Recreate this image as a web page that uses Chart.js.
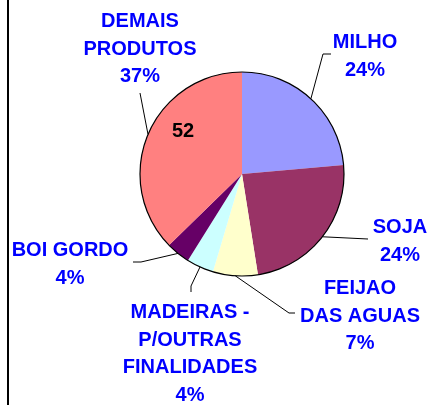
<!DOCTYPE html>
<html>
<head>
<meta charset="utf-8">
<script src="https://cdn.jsdelivr.net/npm/chart.js@4/dist/chart.umd.min.js"></script>
<style>
    html, body { margin: 0; padding: 0; background: #fff; }
    canvas { display: block; }
</style>
</head>
<body>
<canvas id="pie" width="430" height="405"></canvas>
<script>
// slice data (clockwise from 12 o'clock)
const categories = [
    ['MILHO'],
    ['SOJA'],
    ['FEIJAO', 'DAS AGUAS'],
    ['MADEIRAS -', 'P/OUTRAS', 'FINALIDADES'],
    ['BOI GORDO'],
    ['DEMAIS', 'PRODUTOS']
];
const shares = [23.6, 23.9, 7.1, 4.3, 3.8, 37.3];
const sliceColors = ['#9999FF', '#993366', '#FFFFCC', '#CCFFFF', '#660066', '#FF8080'];
const strayValue = '52';

(() => {
    'use strict';

    const FONT = 'bold 20px "Liberation Sans", Arial, sans-serif';
    const LINE_H = 27.5;

    // label placement relative to the pie centre: centre x, first baseline, leader path after the arc point
    const labelLayout = [
        { x: 123, y: -126, path: [[81, -120], [89, -120]] },
        { x: 158, y: 59, path: [[126, 65]] },
        { x: 118, y: 120, path: [[47, 139], [53, 139]] },
        { x: -52, y: 144, path: [[-51, 112], [-51, 118]] },
        { x: -172, y: 82, path: [[-101, 88], [-109, 88]] },
        { x: -102, y: -147, path: [[-102, -81]] }
    ];

    const total = shares.reduce((a, b) => a + b, 0);

    const frameLine = {
        id: 'frameLine',
        beforeDraw(chart) {
            const ctx = chart.ctx;
            ctx.save();
            ctx.fillStyle = '#fff';
            ctx.fillRect(0, 0, chart.width, chart.height);
            ctx.fillStyle = '#000';
            ctx.fillRect(7, 0, 2, chart.height);
            ctx.restore();
        }
    };

    const pieLabels = {
        id: 'pieLabels',
        afterDatasetsDraw(chart) {
            const ctx = chart.ctx;
            const arcs = chart.getDatasetMeta(0).data;
            if (!arcs.length) {
                return;
            }
            const { x: cx, y: cy, outerRadius } = arcs[0].getProps(['x', 'y', 'outerRadius'], true);

            ctx.save();
            // outline of the whole pie
            ctx.strokeStyle = '#000';
            ctx.lineWidth = 1.2;
            ctx.beginPath();
            ctx.arc(cx, cy, outerRadius, 0, Math.PI * 2);
            ctx.stroke();

            ctx.lineWidth = 1;
            ctx.font = FONT;
            ctx.textAlign = 'center';
            ctx.textBaseline = 'alphabetic';

            arcs.forEach((arc, i) => {
                const { startAngle, endAngle } = arc.getProps(['startAngle', 'endAngle'], true);
                const mid = (startAngle + endAngle) / 2;
                const lay = labelLayout[i];

                // leader line
                ctx.strokeStyle = '#000';
                ctx.beginPath();
                ctx.moveTo(cx + Math.cos(mid) * outerRadius, cy + Math.sin(mid) * outerRadius);
                lay.path.forEach(p => ctx.lineTo(cx + p[0], cy + p[1]));
                ctx.stroke();

                // label text
                const lines = categories[i].concat(Math.round(shares[i] / total * 100) + '%');
                ctx.fillStyle = '#0000FF';
                lines.forEach((line, k) => {
                    ctx.fillText(line, cx + lay.x, cy + lay.y + k * LINE_H);
                });
            });

            ctx.fillStyle = '#000';
            ctx.fillText(strayValue, cx - 59, cy - 37);
            ctx.restore();
        }
    };

    new Chart(document.getElementById('pie'), {
        type: 'pie',
        data: {
            labels: categories.map(c => c.join(' ')),
            datasets: [{
                data: shares,
                backgroundColor: sliceColors,
                borderWidth: 0
            }]
        },
        options: {
            responsive: false,
            animation: false,
            radius: 102,
            layout: { padding: { left: 60, right: 6, top: 10, bottom: 67 } },
            plugins: {
                legend: { display: false },
                tooltip: { enabled: false }
            }
        },
        plugins: [frameLine, pieLabels]
    });
})();
</script>
</body>
</html>
